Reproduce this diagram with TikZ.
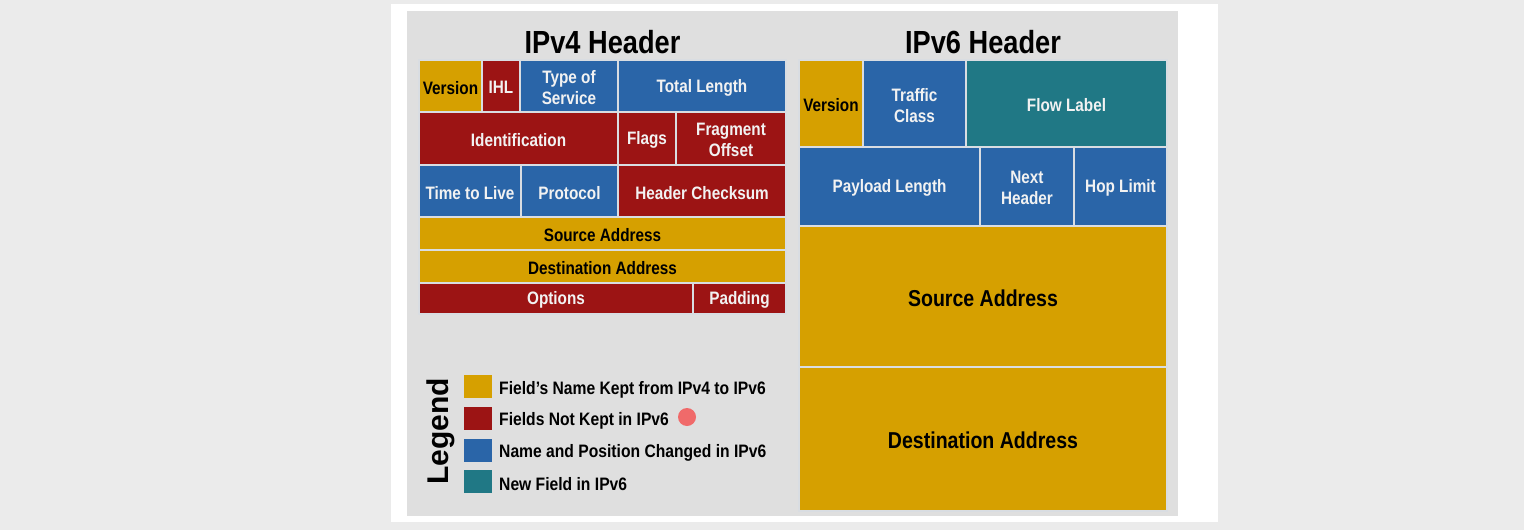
\documentclass[tikz,border=0pt]{standalone}
\usepackage{fontspec}
\newfontfamily\narrowsans{Liberation Sans}[FakeStretch=0.85]
\newfontfamily\keysans{Liberation Sans}[FakeStretch=0.87]
\newfontfamily\plainsans{Liberation Sans}
\definecolor{pagebg}{HTML}{EBEBEB}
\definecolor{panelbg}{HTML}{DFDFDF}
\definecolor{keptgold}{HTML}{D6A000}
\definecolor{droppedred}{HTML}{9C1414}
\definecolor{changedblue}{HTML}{2A65A8}
\definecolor{newteal}{HTML}{207885}
\definecolor{dotpink}{HTML}{F06A6A}
\definecolor{cellline}{HTML}{D9DDE2}
\definecolor{lighttext}{HTML}{F2F2F2}
\newcommand\cellfnt{\narrowsans\bfseries\fontsize{18}{21}\selectfont}
\newcommand\keyfnt{\keysans\bfseries\fontsize{18}{21}\selectfont}
\newcommand\bigcellfnt{\narrowsans\bfseries\fontsize{23}{27}\selectfont}
\newcommand\titlefnt{\narrowsans\bfseries\fontsize{32}{36}\selectfont}
% one header field: style, name, x1, y1, x2, y2, label
\newcommand\fieldbox[7]{%
  \node[cell,#1,minimum width={(#5-#3)*1pt},minimum height={(#6-#4)*1pt}]
    (#2) at ({(#3+#5)/2},{(#4+#6)/2}) {};
  \node[celltext,#1] (#2-text) at ([yshift=-1.6pt]#2.center) {#7};}
\tikzset{
  cell/.style={draw=cellline, line width=1.5pt, inner sep=0pt, outer sep=0pt},
  celltext/.style={align=center, font=\cellfnt, inner sep=0pt, fill=none, draw=none},
  kept/.style={fill=keptgold, text=black},
  dropped/.style={fill=droppedred, text=lighttext},
  changed/.style={fill=changedblue, text=lighttext},
  newfield/.style={fill=newteal, text=lighttext},
  big/.style={font=\bigcellfnt},
  title/.style={font=\titlefnt, text=black, inner sep=0pt},
  swatch/.style={minimum width=28pt, minimum height=23pt, inner sep=0pt, outer sep=0pt},
  legendtext/.style={font=\keyfnt, text=black, anchor=west, inner sep=0pt}
}
\begin{document}
\begin{tikzpicture}[x=1pt,y=-1pt]
\useasboundingbox (0,0) rectangle (1524,530);
% backgrounds
\fill[pagebg] (0,0) rectangle (1524,530);
\fill[white] (391,4) rectangle (1218,522);
\fill[panelbg] (407,11) rectangle (1178,516);

% titles
\node[title] (v4title) at (602.5,42) {IPv4 Header};
\node[title] (v6title) at (983,42) {IPv6 Header};

% IPv4 header fields
\fieldbox{kept}{v4ver}{419}{60}{482}{112}{Version}
\fieldbox{dropped}{v4ihl}{482}{60}{520}{112}{IHL}
\fieldbox{changed}{v4tos}{520}{60}{618}{112}{Type of\\Service}
\fieldbox{changed}{v4len}{618}{60}{786}{112}{Total Length}
\fieldbox{dropped}{v4id}{419}{112}{618}{165}{Identification}
\fieldbox{dropped}{v4flags}{618}{112}{676}{165}{Flags}
\fieldbox{dropped}{v4frag}{676}{112}{786}{165}{Fragment\\Offset}
\fieldbox{changed}{v4ttl}{419}{165}{521}{217}{Time to Live}
\fieldbox{changed}{v4proto}{521}{165}{618}{217}{Protocol}
\fieldbox{dropped}{v4csum}{618}{165}{786}{217}{Header Checksum}
\fieldbox{kept}{v4src}{419}{217}{786}{250}{Source Address}
\fieldbox{kept}{v4dst}{419}{250}{786}{283}{Destination Address}
\fieldbox{dropped}{v4opt}{419}{283}{693}{314}{Options}
\fieldbox{dropped}{v4pad}{693}{283}{786}{314}{Padding}

% IPv6 header fields
\fieldbox{kept}{v6ver}{799}{60}{863}{147}{Version}
\fieldbox{changed}{v6tc}{863}{60}{966}{147}{Traffic\\Class}
\fieldbox{newfield}{v6flow}{966}{60}{1167}{147}{Flow Label}
\fieldbox{changed}{v6plen}{799}{147}{980}{226}{Payload Length}
\fieldbox{changed}{v6next}{980}{147}{1074}{226}{Next\\Header}
\fieldbox{changed}{v6hop}{1074}{147}{1167}{226}{Hop Limit}
\fieldbox{kept,big}{v6src}{799}{226}{1167}{367}{Source Address}
\fieldbox{kept,big}{v6dst}{799}{367}{1167}{511}{Destination Address}

% legend
\node[rotate=90, font=\plainsans\bfseries\fontsize{30}{33}\selectfont, inner sep=0pt]
  (legendtitle) at (440.5,431.5) {Legend};
\node[swatch, fill=keptgold] (keysw1) at (478,386.5) {};
\node[swatch, fill=droppedred] (keysw2) at (478,418.5) {};
\node[swatch, fill=changedblue] (keysw3) at (478,450) {};
\node[swatch, fill=newteal] (keysw4) at (478,481.5) {};
\node[legendtext] (keytx1) at (499,389.5) {Field’s Name Kept from IPv4 to IPv6};
\node[legendtext] (keytx2) at (499,421) {Fields Not Kept in IPv6};
\node[legendtext] (keytx3) at (499,452.5) {Name and Position Changed in IPv6};
\node[legendtext] (keytx4) at (499,484) {New Field in IPv6};
\node[circle, fill=dotpink, minimum size=18pt, inner sep=0pt] (marker) at (687,417) {};
\end{tikzpicture}
\end{document}
